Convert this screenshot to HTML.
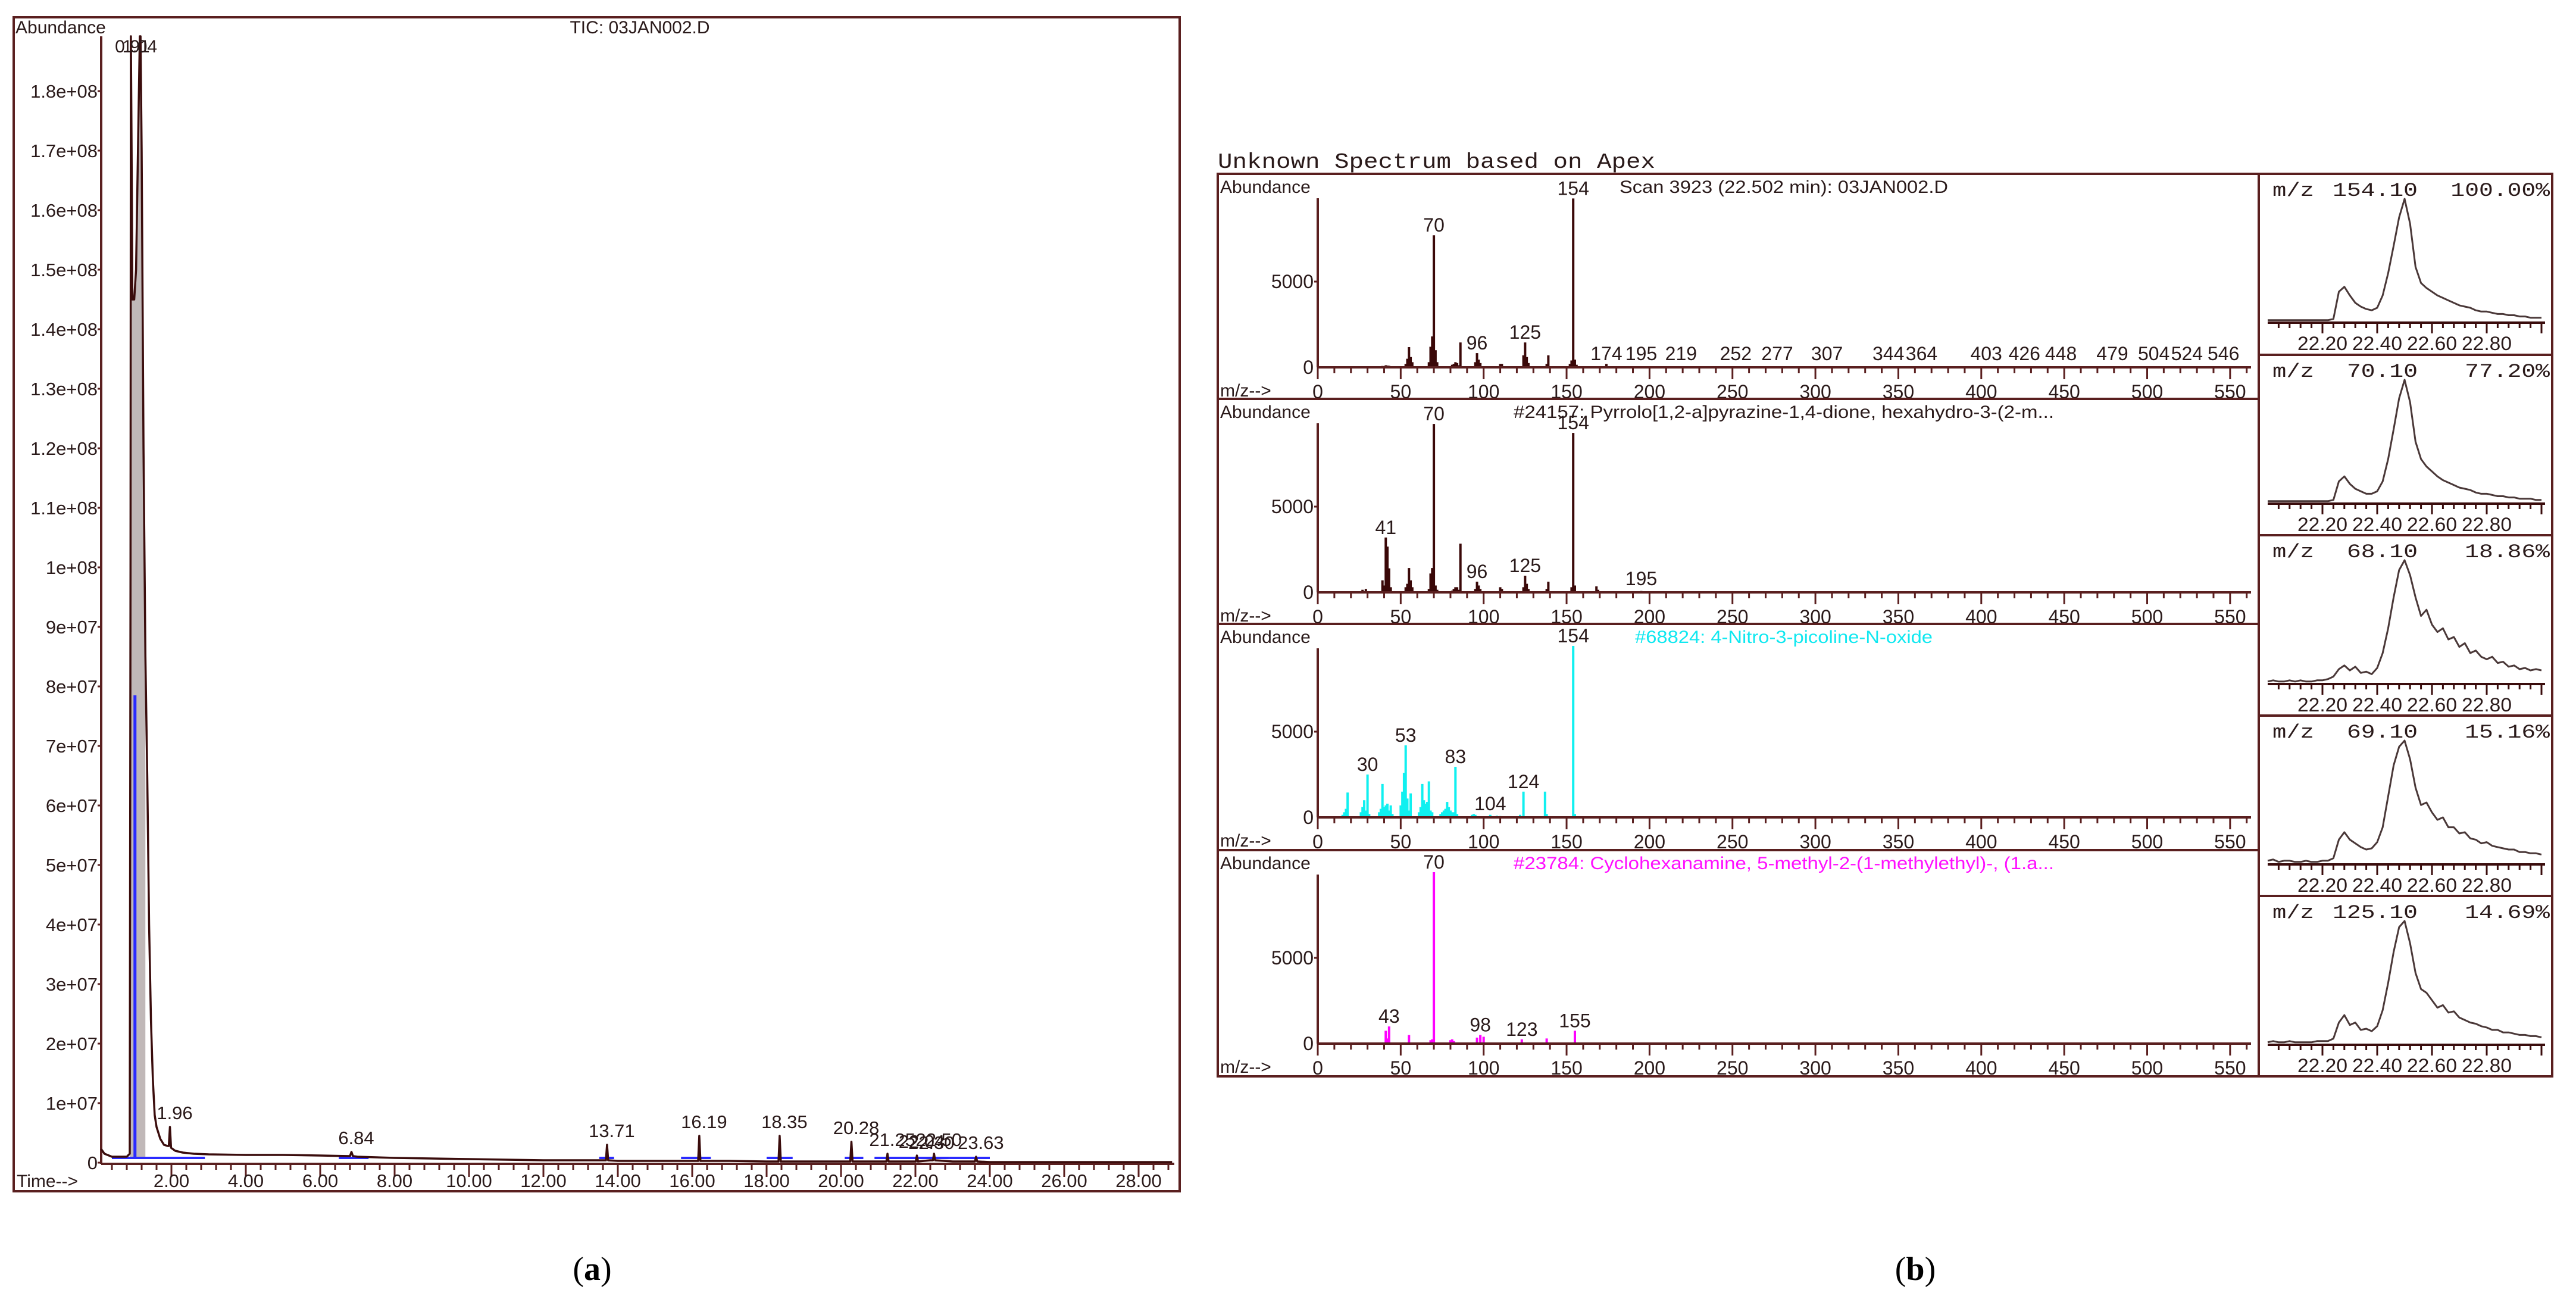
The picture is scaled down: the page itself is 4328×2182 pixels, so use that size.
<!DOCTYPE html>
<html>
<head>
<meta charset="utf-8">
<style>
html,body{margin:0;padding:0;background:#fff;}
svg{display:block;}
text{font-family:"Liberation Sans",sans-serif;fill:#2a1a1a;}
.mono{font-family:"Liberation Mono",monospace;}
</style>
</head>
<body>
<svg id="chart" xmlns="http://www.w3.org/2000/svg" width="4328" height="2182" viewBox="0 0 4328 2182">
<rect x="0" y="0" width="4328" height="2182" fill="#fff"/>
</svg>
<script>
// ---------- Panel (a) data: TIC chromatogram (abundance in units of 1e7) ----------
const ticTimes = [0.11,0.2,0.4,0.6,0.8,0.88,0.9,0.91,0.93,0.95,1.0,1.05,1.1,1.15,1.17,1.2,1.25,1.3,1.35,1.4,1.45,1.5,1.55,1.6,1.7,1.8,1.9,1.93,1.96,1.99,2.1,2.3,2.6,3,4,5,6,6.8,6.84,6.88,7,8,9,10,11,12,13,13.68,13.71,13.74,14,15,16,16.16,16.19,16.22,17,18,18.32,18.35,18.38,19,20,20.25,20.28,20.31,21,21.22,21.25,21.28,21.6,22,22.01,22.04,22.07,22.4,22.47,22.5,22.53,23,23.5,23.6,23.63,23.66,24,25,26,27,28,28.9];
const ticValues = [0.23,0.15,0.1,0.1,0.1,0.15,10,19.3,17,14.5,14.5,15,17,19.3,19.3,17,12,8.5,6.5,4,2.4,1.4,0.8,0.6,0.4,0.3,0.28,0.28,0.6,0.25,0.2,0.17,0.15,0.14,0.13,0.13,0.12,0.11,0.18,0.11,0.1,0.08,0.07,0.06,0.05,0.04,0.04,0.04,0.3,0.04,0.03,0.03,0.03,0.03,0.45,0.03,0.03,0.02,0.02,0.45,0.02,0.02,0.02,0.02,0.35,0.02,0.02,0.02,0.15,0.02,0.02,0.02,0.02,0.12,0.02,0.04,0.04,0.15,0.04,0.02,0.02,0.02,0.1,0.02,0.01,0.01,0.01,0.01,0.01,0.01];
const ticPeakTimes = [1.96,6.84,13.71,16.19,18.35,20.28,21.25,22.04,22.30,22.50,23.63];
const ticPeakLabels = ["1.96","6.84","13.71","16.19","18.35","20.28","21.25","22.04","22.30","22.50","23.63"];
const ticPeakHeights = [0.6,0.18,0.3,0.45,0.45,0.35,0.15,0.12,0.1,0.15,0.1];
const blueStart = [0.4,6.5,13.5,15.7,18.0,20.1,20.9,22.9];
const blueEnd = [2.9,7.3,13.9,16.5,18.7,20.6,22.9,24.0];
const blueMarkerTime = 1.02;
const blueMarkerValue = 7.85;
const yTickValues = [0,1,2,3,4,5,6,7,8,9,10,11,12,13,14,15,16,17,18];
const yTickLabels = ["0","1e+07","2e+07","3e+07","4e+07","5e+07","6e+07","7e+07","8e+07","9e+07","1e+08","1.1e+08","1.2e+08","1.3e+08","1.4e+08","1.5e+08","1.6e+08","1.7e+08","1.8e+08"];
const xTickValues = [2,4,6,8,10,12,14,16,18,20,22,24,26,28];
const xTickLabels = ["2.00","4.00","6.00","8.00","10.00","12.00","14.00","16.00","18.00","20.00","22.00","24.00","26.00","28.00"];

// ---------- Panel (b) data: mass spectra ----------
const spec1Mz = [39,41,42,43,53,54,55,56,57,67,68,69,70,71,72,81,82,83,84,85,86,95,96,97,98,110,111,124,125,126,127,138,139,152,153,154,155,156,174,195,219,252,277,307,344,364,403,426,448,479,504,524,546];
const spec1Ab = [80,120,100,90,200,500,1180,600,300,300,1200,1800,7700,1000,300,150,200,300,250,120,1450,300,830,450,250,200,200,700,1450,600,250,200,700,200,400,9850,450,150,200,60,40,40,30,30,30,30,30,30,30,30,30,30,30];
const spec1LabelMz = [70,154,96,125,174,195,219,252,277,307,344,364,403,426,448,479,504,524,546];
const spec2Mz = [27,29,39,40,41,42,43,44,53,54,55,56,57,67,68,69,70,71,72,81,82,83,84,85,86,95,96,97,98,110,111,124,125,126,127,138,139,153,154,155,168,169,195];
const spec2Ab = [150,200,700,400,3200,2670,1400,300,300,500,1420,700,300,200,1100,1420,9820,400,150,100,200,300,300,150,2840,200,620,400,200,300,200,300,970,500,200,200,620,300,9300,400,350,150,80];
const spec2LabelMz = [41,70,154,96,125,195];
const spec3Mz = [15,16,17,18,26,27,28,29,30,31,37,38,39,40,41,42,43,44,45,50,51,52,53,54,55,56,61,62,63,64,65,66,67,68,69,74,75,76,77,78,79,80,81,82,83,84,93,94,95,104,108,110,122,124,137,138,154,155];
const spec3Ab = [150,300,500,1450,300,600,1000,400,2500,200,300,500,1950,600,700,800,400,700,200,700,1500,2600,4200,1100,400,1400,300,600,1950,1000,800,900,2100,400,300,200,300,400,500,900,600,400,300,300,2950,200,150,200,150,150,100,80,150,1500,1500,200,10000,200];
const spec3LabelMz = [30,53,83,104,124,154];
const spec4Mz = [41,42,43,55,68,69,70,80,81,82,96,98,100,123,138,155];
const spec4Ab = [750,300,1000,500,200,250,10000,200,250,150,350,500,400,250,300,750];
const spec4LabelMz = [43,70,98,123,155];
const mzTickValues = [0,50,100,150,200,250,300,350,400,450,500,550];

// ---------- Panel (b) data: extracted ion chromatograms (percent of panel max) ----------
const eicTimes = [22.00,22.02,22.04,22.06,22.08,22.10,22.12,22.14,22.16,22.18,22.20,22.22,22.24,22.26,22.28,22.30,22.32,22.34,22.36,22.38,22.40,22.42,22.44,22.46,22.48,22.50,22.52,22.54,22.56,22.58,22.60,22.62,22.64,22.66,22.68,22.70,22.72,22.74,22.76,22.78,22.80,22.82,22.84,22.86,22.88,22.90,22.92,22.94,22.96,22.98,23.00];
const eic1 = [2,2,2,2,2,2,2,2,2,2,2,2,3,25,29,22,16,13,11,10,12,22,40,62,85,100,80,45,32,28,25,22,20,18,16,14,13,12,10,9,9,8,7,7,6,6,5,5,4,4,4];
const eic2 = [2,2,2,2,2,2,2,2,2,2,2,2,3,18,22,16,12,10,8,8,10,18,36,60,85,100,82,50,36,30,26,22,19,17,15,13,12,11,9,8,8,7,6,6,5,5,4,4,4,3,3];
const eic3 = [2,3,2,2,3,2,3,2,2,3,3,4,6,12,15,11,14,9,10,8,13,25,45,70,92,100,88,70,55,60,48,42,45,36,38,30,33,25,27,22,20,22,17,18,14,15,12,13,11,12,11];
const eic4 = [3,4,2,3,3,2,2,3,2,2,3,3,5,20,26,20,17,14,12,13,18,30,55,80,95,100,85,62,48,50,42,36,38,30,30,25,26,21,20,17,18,15,14,13,12,12,10,10,9,9,8];
const eic5 = [2,3,2,2,3,2,2,2,2,3,3,3,5,18,24,16,18,12,13,11,15,28,50,75,95,100,82,58,45,42,36,30,32,26,27,22,20,18,17,15,14,12,12,10,10,9,8,8,7,7,6];
const eicMz = ["154.10","70.10","68.10","69.10","125.10"];
const eicPct = ["100.00%","77.20%","18.86%","15.16%","14.69%"];
const eicTickValues = [22.20,22.40,22.60,22.80];
const eicTickLabels = ["22.20","22.40","22.60","22.80"];

const NS = "http://www.w3.org/2000/svg";
const svg = document.getElementById('chart');
const FRAME = "#5a1f1f";
function mk(tag, attrs, parent) {
  const e = document.createElementNS(NS, tag);
  for (const k in attrs) e.setAttribute(k, attrs[k]);
  (parent || svg).appendChild(e);
  return e;
}
function txt(str, attrs, parent) {
  const e = mk('text', attrs, parent);
  e.textContent = str;
  return e;
}
let el;

// ================= PANEL A =================
const gA = mk('g', {});


const xA = t => 163 + t * 62.5;
const yA = v => Math.max(61, 1953 - v * 100);

el = mk('rect', {x:23, y:29, width:1959, height:1972, fill:'none', stroke:FRAME, 'stroke-width':4}, gA);



el = txt('Abundance', {x:26, y:56, 'font-size':30}, gA);


el = txt('TIC: 03JAN002.D', {x:1075, y:56, 'font-size':30, 'text-anchor':'middle'}, gA);


el = txt('Time-->', {x:28, y:1994, 'font-size':30}, gA);



el = mk('line', {x1:170, y1:61, x2:170, y2:1955, stroke:FRAME, 'stroke-width':4}, gA);


el = mk('line', {x1:170, y1:1955, x2:1973, y2:1955, stroke:FRAME, 'stroke-width':4}, gA);



for (let i = 0; i < yTickValues.length; i++) {
  const y = yA(yTickValues[i]);
  el = mk('line', {x1:164, y1:y, x2:170, y2:y, stroke:FRAME, 'stroke-width':3}, gA);
  
  
  el = txt(yTickLabels[i], {x:164, y:y + 11, 'font-size':31, 'text-anchor':'end'}, gA);
  
  
}
for (let t = 0.4; t < 29.0; t += 0.4) {
  const major = Math.abs(t / 2 - Math.round(t / 2)) < 0.01;
  el = mk('line', {x1:xA(t), y1:1955, x2:xA(t), y2:major ? 1977 : 1965, stroke:FRAME, 'stroke-width':3}, gA);
  
  
}
for (let i = 0; i < xTickValues.length; i++) {
  el = txt(xTickLabels[i], {x:xA(xTickValues[i]), y:1994, 'font-size':31, 'text-anchor':'middle'}, gA);
  
  
}

// grey integration fill under main peaks
let fillPts = [];
for (let i = 0; i < ticTimes.length; i++) {
  if (ticTimes[i] >= 0.88 && ticTimes[i] <= 1.3) fillPts.push(xA(ticTimes[i]) + ',' + yA(ticValues[i]));
}
fillPts.push(xA(1.3) + ',' + yA(0.1));
fillPts.push(xA(0.88) + ',' + yA(0.1));
el = mk('polygon', {points:fillPts.join(' '), fill:'#c0b8b8', stroke:'none'}, gA);



// blue baselines
for (let i = 0; i < blueStart.length; i++) {
  el = mk('line', {x1:xA(blueStart[i]), y1:yA(0.08), x2:xA(blueEnd[i]), y2:yA(0.08), stroke:'#2a2aff', 'stroke-width':4}, gA);
  
  
}
el = mk('line', {x1:xA(blueMarkerTime), y1:yA(0.08), x2:xA(blueMarkerTime), y2:yA(blueMarkerValue), stroke:'#2a2aff', 'stroke-width':5}, gA);



// TIC trace
let pts = [];
for (let i = 0; i < ticTimes.length; i++) pts.push(xA(ticTimes[i]).toFixed(1) + ',' + yA(ticValues[i]).toFixed(1));
el = mk('polyline', {points:pts.join(' '), fill:'none', stroke:'#3a0c0c', 'stroke-width':3.5, 'stroke-linejoin':'round'}, gA);



// peak labels
el = txt('0.91', {x:xA(0.95), y:88, 'font-size':30, 'text-anchor':'middle'}, gA);


el = txt('1.04', {x:xA(1.15), y:88, 'font-size':30, 'text-anchor':'middle'}, gA);


for (let i = 0; i < ticPeakTimes.length; i++) {
  const x = xA(ticPeakTimes[i]);
  const top = yA(ticPeakHeights[i] + 0.05);
  el = txt(ticPeakLabels[i], {x:x + 8, y:top - 8, 'font-size':31, 'text-anchor':'middle'}, gA);
  
  
}

// ================= PANEL B =================
const gB = mk('g', {});


el = txt('Unknown Spectrum based on Apex', {x:2046, y:282, 'font-size':36, 'class':'mono', textLength:735, lengthAdjust:'spacingAndGlyphs'}, gB);



el = mk('rect', {x:2046, y:292, width:2242, height:1516, fill:'none', stroke:FRAME, 'stroke-width':4}, gB);


el = mk('line', {x1:3795, y1:292, x2:3795, y2:1808, stroke:FRAME, 'stroke-width':4}, gB);



const rowTops = [292, 670, 1048, 1428];
const rowHeaders = ["Scan 3923 (22.502 min): 03JAN002.D","#24157: Pyrrolo[1,2-a]pyrazine-1,4-dione, hexahydro-3-(2-m...","#68824: 4-Nitro-3-picoline-N-oxide","#23784: Cyclohexanamine, 5-methyl-2-(1-methylethyl)-, (1.a..."];
const rowHeaderW = [552, 908, 500, 908];
const rowHeaderColor = ["#2a1a1a","#2a1a1a","#10e8f0","#ff10ff"];
const rowBarColor = ["#3a0808","#3a0808","#10f0f0","#ff00ff"];
const specMz = [spec1Mz, spec2Mz, spec3Mz, spec4Mz];
const specAb = [spec1Ab, spec2Ab, spec3Ab, spec4Ab];
const specLab = [spec1LabelMz, spec2LabelMz, spec3LabelMz, spec4LabelMz];
const xS = m => 2214 + m * 2.787;

for (let r = 0; r < 4; r++) {
  const T = rowTops[r];
  const base = T + 325;
  const yS = a => base - a * 0.0288;
  const g = mk('g', {}, gB);
  
  
  if (r > 0) {
    el = mk('line', {x1:2046, y1:T, x2:3795, y2:T, stroke:FRAME, 'stroke-width':4}, g);
    
    
  }
  el = txt('Abundance', {x:2050, y:T + 32, 'font-size':30}, g);
  
  
  el = txt('m/z-->', {x:2050, y:T + 374, 'font-size':30}, g);
  
  
  el = txt(rowHeaders[r], {x:2997, y:T + 32, 'font-size':30, 'text-anchor':'middle', textLength:rowHeaderW[r], lengthAdjust:'spacingAndGlyphs', style:'fill:' + rowHeaderColor[r]}, g);
  
  
  el = mk('line', {x1:2214, y1:T + 41, x2:2214, y2:base, stroke:FRAME, 'stroke-width':4}, g);
  
  
  el = mk('line', {x1:2208, y1:yS(5000), x2:2214, y2:yS(5000), stroke:FRAME, 'stroke-width':3}, g);
  
  
  el = txt('5000', {x:2207, y:yS(5000) + 11, 'font-size':32, 'text-anchor':'end'}, g);
  
  
  el = txt('0', {x:2207, y:base + 11, 'font-size':32, 'text-anchor':'end'}, g);
  
  
  for (let i = 0; i < specMz[r].length; i++) {
    el = mk('line', {x1:xS(specMz[r][i]), y1:base, x2:xS(specMz[r][i]), y2:yS(specAb[r][i]), stroke:rowBarColor[r], 'stroke-width':4}, g);
    
    
  }
  el = mk('line', {x1:2214, y1:base, x2:3782, y2:base, stroke:FRAME, 'stroke-width':4}, g);
  
  
  for (let m = 10; m <= 560; m += 10) {
    const major = m % 50 === 0;
    el = mk('line', {x1:xS(m), y1:base, x2:xS(m), y2:base + (major ? 20 : 10), stroke:FRAME, 'stroke-width':3}, g);
    
    
  }
  el = mk('line', {x1:xS(0), y1:base, x2:xS(0), y2:base + 20, stroke:FRAME, 'stroke-width':3}, g);
  
  
  for (let i = 0; i < mzTickValues.length; i++) {
    el = txt(String(mzTickValues[i]), {x:xS(mzTickValues[i]), y:base + 52, 'font-size':32, 'text-anchor':'middle'}, g);
    
    
  }
  for (let i = 0; i < specLab[r].length; i++) {
    const m = specLab[r][i];
    const idx = specMz[r].indexOf(m);
    const a = idx >= 0 ? specAb[r][idx] : 0;
    const y = Math.min(yS(a) - 6, base - 12);
    el = txt(String(m), {x:xS(m), y:y, 'font-size':32, 'text-anchor':'middle'}, g);
    
    
  }
}

// small extracted ion chromatograms
const eicTops = [292, 596, 899, 1202, 1505];
const eicData = [eic1, eic2, eic3, eic4, eic5];
const xE = t => 3902 + (t - 22.2) * 460;
for (let p = 0; p < 5; p++) {
  const T = eicTops[p];
  const base = T + 250;
  const yE = v => base - v * 2.08;
  const g = mk('g', {}, gB);
  
  
  if (p > 0) {
    el = mk('line', {x1:3795, y1:T, x2:4288, y2:T, stroke:FRAME, 'stroke-width':4}, g);
    
    
  }
  el = txt('m/z', {x:3818, y:T + 37, 'font-size':32, 'class':'mono', textLength:70, lengthAdjust:'spacingAndGlyphs'}, g);
  
  
  el = txt(eicMz[p], {x:4062, y:T + 37, 'font-size':32, 'class':'mono', 'text-anchor':'end', textLength:eicMz[p].length * 23.8, lengthAdjust:'spacingAndGlyphs'}, g);
  
  
  el = txt(eicPct[p], {x:4284, y:T + 37, 'font-size':32, 'class':'mono', 'text-anchor':'end', textLength:eicPct[p].length * 23.8, lengthAdjust:'spacingAndGlyphs'}, g);
  
  
  el = mk('line', {x1:3810, y1:base, x2:4276, y2:base, stroke:'#3a0c0c', 'stroke-width':4}, g);
  
  
  for (let t = 22.04; t < 23.0; t += 0.04) {
    const major = Math.abs(t * 5 - Math.round(t * 5)) < 0.01;
    el = mk('line', {x1:xE(t), y1:base, x2:xE(t), y2:base + (major ? 18 : 9), stroke:'#3a0c0c', 'stroke-width':3}, g);
    
    
  }
  for (let i = 0; i < eicTickValues.length; i++) {
    el = txt(eicTickLabels[i], {x:xE(eicTickValues[i]), y:base + 46, 'font-size':32, 'text-anchor':'middle', textLength:84, lengthAdjust:'spacingAndGlyphs'}, g);
    
    
  }
  let ep = [];
  for (let i = 0; i < eicTimes.length; i++) ep.push(xE(eicTimes[i]).toFixed(1) + ',' + yE(eicData[p][i]).toFixed(1));
  el = mk('polyline', {points:ep.join(' '), fill:'none', stroke:'#4a3838', 'stroke-width':3, 'stroke-linejoin':'round'}, g);
  
  
}

// sub-figure captions
el = txt('', {x:995, y:2150, 'font-size':56, 'text-anchor':'middle', style:'font-family:"Liberation Serif",serif;fill:#000'});
el.innerHTML = '(<tspan font-weight="bold">a</tspan>)';


el = txt('', {x:3218, y:2150, 'font-size':56, 'text-anchor':'middle', style:'font-family:"Liberation Serif",serif;fill:#000'});
el.innerHTML = '(<tspan font-weight="bold">b</tspan>)';


</script>
</body>
</html>
